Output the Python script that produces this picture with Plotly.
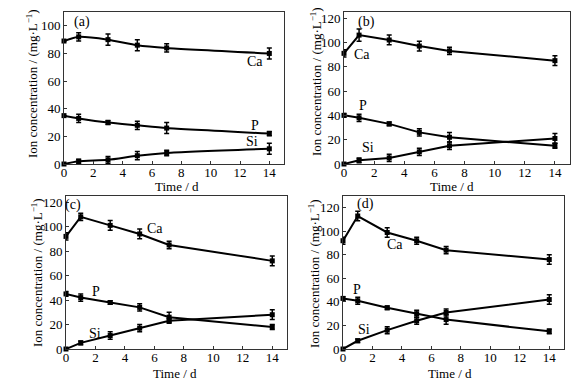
import plotly.graph_objects as go

time_d = [0, 1, 3, 5, 7, 14]

# panel (a)
a_ca = [89, 92, 90, 86, 84, 80]
a_ca_err = [0, 3, 4, 4, 3, 4]
a_p = [35, 33, 30, 28, 26, 22]
a_p_err = [0, 3, 1.5, 3, 4, 1.5]
a_si = [0, 2, 3, 6, 8, 11]
a_si_err = [0, 1.5, 2.5, 3, 2, 4]

# panel (b)
b_ca = [91, 106, 102, 97, 93, 85]
b_ca_err = [3, 5, 4, 4, 3, 4]
b_p = [40, 38, 33, 26, 22, 15]
b_p_err = [1.5, 3, 1.5, 3, 4, 2]
b_si = [0, 3, 5, 10, 15, 21]
b_si_err = [0, 2, 3, 3, 3, 4]

# panel (c)
c_ca = [92, 108, 101, 94, 85, 72]
c_ca_err = [3, 3, 4, 4, 3, 4]
c_p = [45, 42, 38, 34, 26, 18]
c_p_err = [2, 3, 1.5, 3, 4, 2]
c_si = [0, 5, 11, 17, 23, 28]
c_si_err = [0, 1.5, 3, 3, 2, 4]

# panel (d)
d_ca = [92, 113, 99, 92, 84, 76]
d_ca_err = [3, 4, 4, 3, 3, 4]
d_p = [43, 41, 35, 30, 25, 15]
d_p_err = [1.5, 3, 1.5, 3, 4, 2]
d_si = [0, 7, 16, 24, 31, 42]
d_si_err = [0, 1.5, 3, 3, 3, 4]

panels = [
    ("(a)", a_ca, a_ca_err, a_p, a_p_err, a_si, a_si_err),
    ("(b)", b_ca, b_ca_err, b_p, b_p_err, b_si, b_si_err),
    ("(c)", c_ca, c_ca_err, c_p, c_p_err, c_si, c_si_err),
    ("(d)", d_ca, d_ca_err, d_p, d_p_err, d_si, d_si_err),
]

y_max = [110, 125, 125, 130]
x_title = "Time / d"
y_title = "Ion concentration / (mg·L<sup>−1</sup>)"
label_pos = {
    "(a)": [(1.2, 102.5, "(a)"), (13.0, 74.5, "Ca"), (13.0, 28, "P"), (12.8, 16, "Si")],
    "(b)": [(1.5, 117, "(b)"), (1.2, 89.8, "Ca"), (1.25, 47.8, "P"), (1.6, 13.4, "Si")],
    "(c)": [(0.47, 118, "(c)"), (6.07, 98.4, "Ca"), (2.04, 47.3, "P"), (2.0, 12.5, "Si")],
    "(d)": [(1.54, 123, "(d)"), (3.55, 89, "Ca"), (0.93, 50.5, "P"), (1.4, 16.3, "Si")],
}

# page has an 8px body margin: figure drawn 8px in from the top-left corner
OFF = 8
W, H = 582 - OFF, 381 - OFF
px_dom = [
    ((64, 284), (12, 164)),
    ((344, 570), (12, 164)),
    ((66, 287), (196, 349)),
    ((343, 564), (196, 349)),
]
# axis-title centres in reference pixels
xt_px = [(177, 186), (452, 186), (175, 373), (450, 373)]
yt_px = [(32, 84), (316, 82), (37, 273), (314, 273)]

FONT = "Liberation Serif"
fig = go.Figure()
layout = {}
for i, (name, ca, cae, p, pe, si, sie) in enumerate(panels):
    n = "" if i == 0 else str(i + 1)
    xa, ya = "x" + n, "y" + n
    shape = "spline" if i == 0 else "linear"
    for vals, errs in ((ca, cae), (p, pe), (si, sie)):
        fig.add_trace(go.Scatter(
            x=time_d, y=vals, xaxis=xa, yaxis=ya, mode="lines+markers",
            line=dict(color="black", width=2, shape=shape, smoothing=0.6),
            marker=dict(symbol="square", size=5, color="black"),
            error_y=dict(type="data", array=errs, visible=True, color="black",
                         thickness=1.5, width=2.5),
            showlegend=False, cliponaxis=False,
        ))
    (x0, x1), (t, b) = px_dom[i]
    x0, x1, t, b = x0 - OFF, x1 - OFF, t - OFF, b - OFF
    axstyle = dict(showline=True, mirror=True, linecolor="#333", linewidth=1,
                   ticks="inside", ticklen=3, tickcolor="#333", showgrid=False,
                   zeroline=False, automargin=False,
                   tickfont=dict(family=FONT, size=13, color="black"))
    layout["xaxis" + n] = dict(domain=[x0 / W, x1 / W], anchor=ya, range=[0, 15],
                               dtick=2, tick0=0, ticklabelstandoff=-4, **axstyle)
    layout["yaxis" + n] = dict(domain=[(H - b) / H, (H - t) / H], anchor=xa,
                               range=[0, y_max[i]], dtick=20, tick0=0, **axstyle)
    for (lx, ly, txt) in label_pos[name]:
        fig.add_annotation(x=lx, y=ly, xref=xa, yref=ya, text=txt, showarrow=False,
                           font=dict(family=FONT, size=14, color="black"))
    fig.add_annotation(x=(xt_px[i][0] - OFF) / W, y=1 - (xt_px[i][1] - OFF) / H,
                       xref="paper", yref="paper", xanchor="center", yanchor="middle",
                       text=x_title, showarrow=False,
                       font=dict(family=FONT, size=13, color="black"))
    fig.add_annotation(x=(yt_px[i][0] - OFF) / W, y=1 - (yt_px[i][1] - OFF) / H,
                       xref="paper", yref="paper", xanchor="center", yanchor="middle",
                       text=y_title, showarrow=False, textangle=-90,
                       font=dict(family=FONT, size=13, color="black"))

fig.update_layout(width=W, height=H, margin=dict(l=0, r=0, t=0, b=0, autoexpand=False),
                  plot_bgcolor="white", paper_bgcolor="white", **layout)
fig.write_html("out.html")
